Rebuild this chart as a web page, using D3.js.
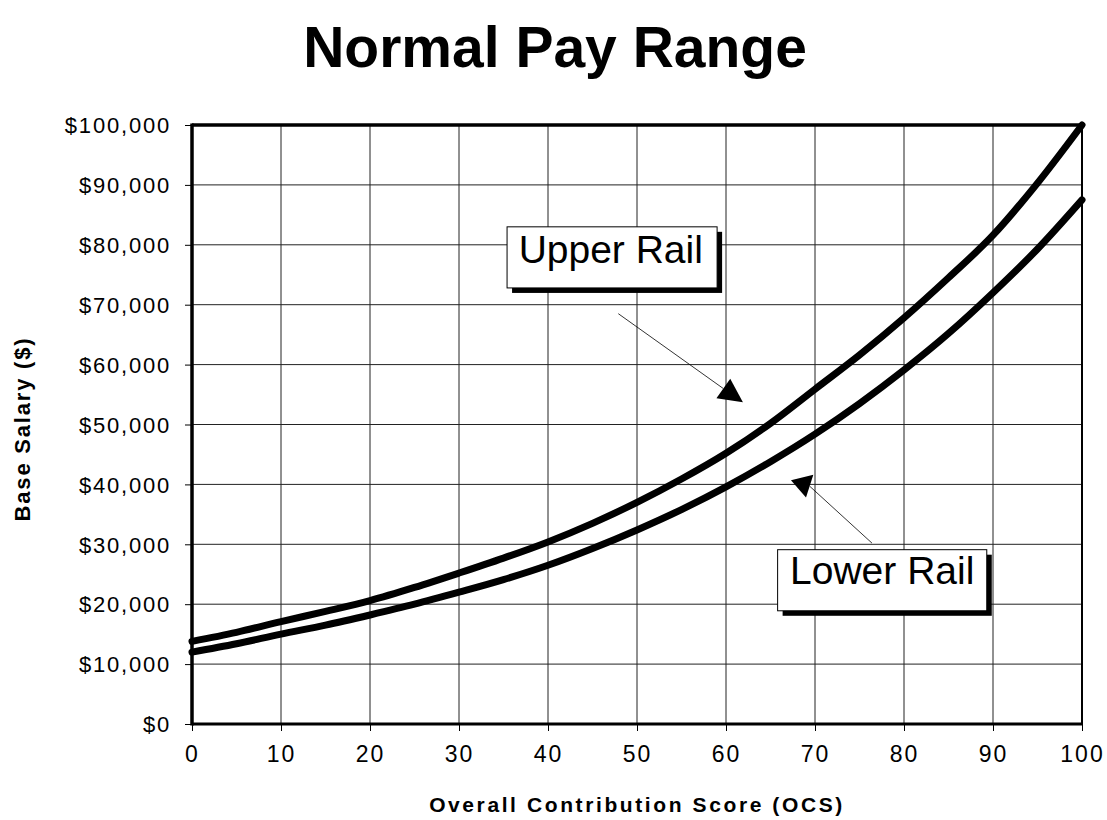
<!DOCTYPE html>
<html>
<head>
<meta charset="utf-8">
<script src="https://cdn.jsdelivr.net/npm/d3@7/dist/d3.min.js"></script>
<style>
  html, body { margin: 0; padding: 0; background: #fff; }
  svg { display: block; font-family: "Liberation Sans", Arial, sans-serif; }
</style>
</head>
<body>
<svg id="chart" width="1107" height="820"></svg>
<script>
// ---- data ----
const ocs = [0, 5, 10, 15, 20, 25, 30, 35, 40, 45, 50, 55, 60, 65, 70, 75, 80, 85, 90, 95, 100];
const upperRail = [13800, 15300, 17100, 18800, 20600, 22800, 25200, 27700, 30400, 33500, 37000, 40900, 45200, 50200, 55900, 61600, 67800, 74500, 81600, 90300, 100000];
const lowerRail = [12000, 13400, 15000, 16500, 18200, 20000, 22000, 24100, 26500, 29300, 32400, 35800, 39600, 43800, 48400, 53500, 59100, 65200, 72000, 79300, 87500];
const xTicks = [0, 10, 20, 30, 40, 50, 60, 70, 80, 90, 100];
const yTicks = [0, 10000, 20000, 30000, 40000, 50000, 60000, 70000, 80000, 90000, 100000];
const titleText = "Normal Pay Range";
const xTitle = "Overall Contribution Score (OCS)";
const yTitle = "Base Salary ($)";
const labels = ["Upper Rail", "Lower Rail"];

// ---- layout ----
const svg = d3.select("#chart");
const L = 192, R = 1082, T = 125, B = 724;
const x = d3.scaleLinear().domain([0, 100]).range([L, R]);
const y = d3.scaleLinear().domain([0, 100000]).range([B, T]);

// title
svg.append("text").attr("x", 555).attr("y", 67).attr("text-anchor", "middle")
  .attr("font-size", 57).attr("font-weight", "bold").text(titleText);

// gridlines
const g = svg.append("g");
g.selectAll(".vg").data(xTicks.slice(1, -1)).join("line")
  .attr("x1", d => x(d)).attr("x2", d => x(d)).attr("y1", T).attr("y2", B)
  .attr("stroke", "#222").attr("stroke-width", 1);
g.selectAll(".hg").data(yTicks.slice(1, -1)).join("line")
  .attr("x1", L).attr("x2", R).attr("y1", d => y(d)).attr("y2", d => y(d))
  .attr("stroke", "#222").attr("stroke-width", 1);

// axes
const fmt = d => "$" + d3.format(",")(d);
const yAxis = svg.append("g").attr("transform", `translate(${L},0)`)
  .call(d3.axisLeft(y).tickValues(yTicks).tickFormat(fmt).tickSize(7).tickPadding(14));
const xAxis = svg.append("g").attr("transform", `translate(0,${B})`)
  .call(d3.axisBottom(x).tickValues(xTicks).tickSize(7).tickPadding(15));
[xAxis, yAxis].forEach(a => {
  a.select(".domain").remove();
  a.selectAll(".tick line").attr("stroke", "#000").attr("stroke-width", 1);
  a.selectAll(".tick text").attr("fill", "#000").attr("font-family", "'Liberation Sans', Arial, sans-serif");
});
yAxis.selectAll(".tick text").attr("font-size", 22).attr("letter-spacing", 1.8).attr("dy", "0.35em");
xAxis.selectAll(".tick text").attr("font-size", 23).attr("letter-spacing", 2);

// axis titles
svg.append("text").attr("x", 637).attr("y", 812).attr("text-anchor", "middle")
  .attr("font-size", 21).attr("font-weight", "bold").attr("letter-spacing", 2.6).text(xTitle);
svg.append("text").attr("transform", "translate(30,429) rotate(-90)").attr("text-anchor", "middle")
  .attr("font-size", 22).attr("font-weight", "bold").attr("letter-spacing", 1.8).text(yTitle);

// frame
svg.append("line").attr("x1", L).attr("x2", R).attr("y1", T).attr("y2", T).attr("stroke", "#000").attr("stroke-width", 3.5);
svg.append("line").attr("x1", L).attr("x2", R).attr("y1", B).attr("y2", B).attr("stroke", "#000").attr("stroke-width", 3);
svg.append("line").attr("x1", L).attr("x2", L).attr("y1", T - 1.5).attr("y2", B + 1.5).attr("stroke", "#000").attr("stroke-width", 3.5);
svg.append("line").attr("x1", R).attr("x2", R).attr("y1", T).attr("y2", B).attr("stroke", "#000").attr("stroke-width", 2);

// rails
const line = d3.line().x(d => x(d[0])).y(d => y(d[1])).curve(d3.curveMonotoneX);
[upperRail, lowerRail].forEach(series => {
  svg.append("path").datum(ocs.map((o, i) => [o, series[i]]))
    .attr("d", line).attr("fill", "none").attr("stroke", "#000")
    .attr("stroke-width", 7).attr("stroke-linejoin", "round").attr("stroke-linecap", "round");
});

// annotations (positions in data units)
const notes = [
  { text: labels[0], box: [35.4, 83000, 59.0, 72800], lineFrom: [47.9, 68500], lineTo: [59.7, 56000], tip: [61.9, 53700], textX: 36.7, textY: 77000 },
  { text: labels[1], box: [65.8, 29100, 89.3, 18900], lineFrom: [76.4, 30200], lineTo: [69.4, 39700], tip: [67.3, 40700], textX: 67.2, textY: 23300 }
];
notes.forEach(n => {
  const x0 = x(n.box[0]), y0 = y(n.box[1]), x1 = x(n.box[2]), y1 = y(n.box[3]);
  svg.append("rect").attr("x", x0 + 5).attr("y", y0 + 5).attr("width", x1 - x0).attr("height", y1 - y0).attr("fill", "#000");
  svg.append("rect").attr("x", x0).attr("y", y0).attr("width", x1 - x0).attr("height", y1 - y0)
    .attr("fill", "#fff").attr("stroke", "#000").attr("stroke-width", 1);
  svg.append("text").attr("x", x(n.textX)).attr("y", y(n.textY)).attr("font-size", 39).text(n.text);
  // leader line
  const fx = x(n.lineFrom[0]), fy = y(n.lineFrom[1]), bx = x(n.lineTo[0]), by = y(n.lineTo[1]);
  const tx = x(n.tip[0]), ty = y(n.tip[1]);
  svg.append("line").attr("x1", fx).attr("y1", fy).attr("x2", bx).attr("y2", by).attr("stroke", "#000").attr("stroke-width", 0.8);
  // arrowhead
  const dx = tx - bx, dy = ty - by, len = Math.hypot(dx, dy);
  const px = -dy / len, py = dx / len, hw = 12;
  svg.append("path").attr("d", `M${tx},${ty}L${bx + px * hw},${by + py * hw}L${bx - px * hw},${by - py * hw}Z`).attr("fill", "#000");
});
</script>
</body>
</html>
